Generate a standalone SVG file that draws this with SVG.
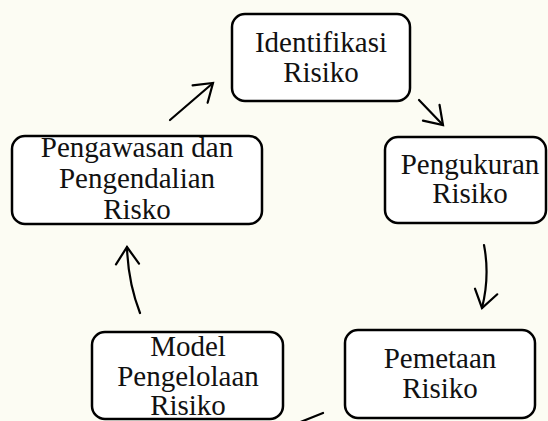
<svg xmlns="http://www.w3.org/2000/svg" width="548" height="421" viewBox="0 0 548 421">
  <defs>
    <style>
      .box { fill: #ffffff; stroke: #000000; stroke-width: 2.5; }
      .lbl { font-family: "Liberation Serif", "Times New Roman", serif; font-size: 29px; fill: #111111; text-anchor: middle; }
      .link { fill: none; stroke: #000000; stroke-width: 2.2; stroke-linecap: round; marker-end: url(#vhead); }
    </style>
    <marker id="vhead" markerUnits="userSpaceOnUse" markerWidth="40" markerHeight="40" viewBox="-22 -20 26 40" refX="0" refY="0" orient="auto">
      <path d="M -17 -11.5 L 0 0 L -17 11.5" fill="none" stroke="#000000" stroke-width="2.2" stroke-linecap="round" stroke-linejoin="miter"/>
    </marker>
  </defs>

  <!-- paper -->
  <rect x="0" y="0" width="548" height="421" fill="#fcfcf3"/>

  <!-- cycle connectors -->
  <g id="connectors">
    <path class="link" d="M 170 120 L 213 83"/>
    <path class="link" d="M 419 100 L 443 125"/>
    <path class="link" d="M 484 245 Q 490 276 482 308"/>
    <path d="M 323 413 L 298 423" fill="none" stroke="#000000" stroke-width="2.2" stroke-linecap="round"/>
    <path class="link" d="M 140 313 Q 128 282 127 247"/>
  </g>

  <g id="identifikasi">
    <rect class="box" x="232" y="14" width="178" height="87" rx="13"/>
    <text class="lbl" x="321" y="52">Identifikasi</text>
    <text class="lbl" x="321" y="82">Risiko</text>
  </g>

  <g id="pengukuran">
    <rect class="box" x="385" y="137" width="161" height="86" rx="13"/>
    <text class="lbl" x="470" y="174">Pengukuran</text>
    <text class="lbl" x="470" y="203">Risiko</text>
  </g>

  <g id="pemetaan">
    <rect class="box" x="345" y="330" width="190" height="88" rx="13"/>
    <text class="lbl" x="440" y="368">Pemetaan</text>
    <text class="lbl" x="440" y="398">Risiko</text>
  </g>

  <g id="model">
    <rect class="box" x="92" y="332" width="191" height="87" rx="13"/>
    <text class="lbl" x="188" y="356">Model</text>
    <text class="lbl" x="188" y="386">Pengelolaan</text>
    <text class="lbl" x="188" y="415">Risiko</text>
  </g>

  <g id="pengawasan">
    <rect class="box" x="12" y="136" width="250" height="88" rx="13"/>
    <text class="lbl" x="137" y="157">Pengawasan dan</text>
    <text class="lbl" x="137" y="188">Pengendalian</text>
    <text class="lbl" x="137" y="219">Risko</text>
  </g>
</svg>
